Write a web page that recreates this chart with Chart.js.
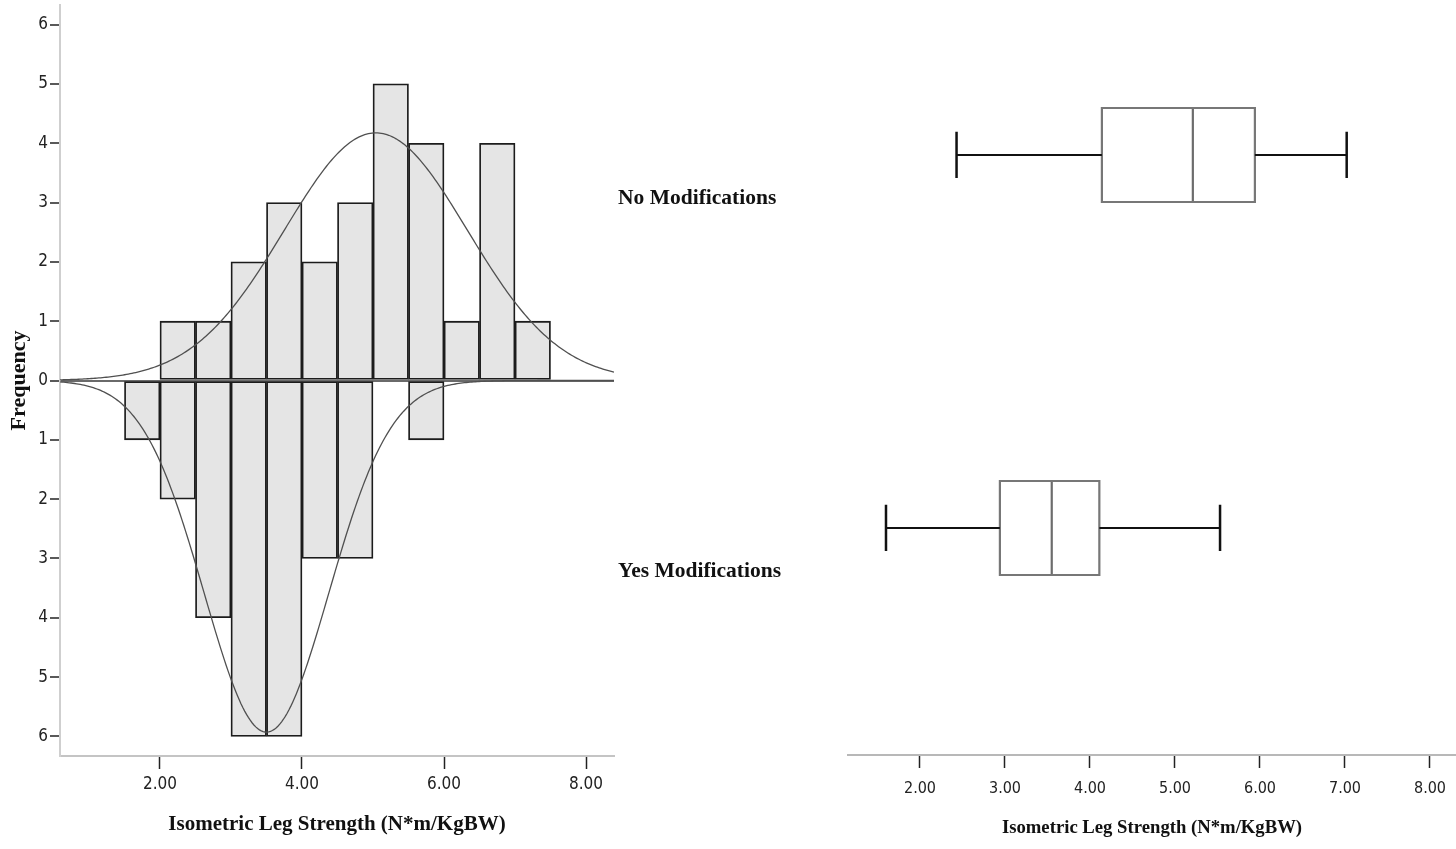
<!DOCTYPE html>
<html>
<head>
<meta charset="utf-8">
<title>Isometric Leg Strength by Modification Group</title>
<script src="https://cdn.jsdelivr.net/npm/chart.js@4.4.1/dist/chart.umd.min.js"></script>
<style>
  html, body { margin: 0; padding: 0; background: #ffffff; }
  body { width: 1456px; height: 849px; position: relative; overflow: hidden; }
  #hist { position: absolute; left: 0; top: 0; }
  #box  { position: absolute; left: 618px; top: 0; }
</style>
</head>
<body>
<canvas id="hist" width="620" height="849"></canvas>
<canvas id="box" width="838" height="849"></canvas>
<script>
// Histogram bins (lower edges, width 0.5 N*m/KgBW)
const binStarts = [1.5, 2.0, 2.5, 3.0, 3.5, 4.0, 4.5, 5.0, 5.5, 6.0, 6.5, 7.0];
const binWidth = 0.5;

// Frequencies per bin: upper half = no modifications, lower half = with modifications
const noModCounts  = [0, 1, 1, 2, 3, 2, 3, 5, 4, 1, 4, 1];
const yesModCounts = [1, 2, 4, 6, 6, 3, 3, 0, 1, 0, 0, 0];

// Group names and normal-fit parameters
const groupNames = ['No Modifications', 'Yes Modifications'];
const groupN  = [27, 26];
const fitMean = [5.04, 3.50];
const fitSD   = [1.29, 0.875];

// Five-number summaries for the box plots
const boxMin    = [2.43, 1.60];
const boxQ1     = [4.14, 2.94];
const boxMedian = [5.21, 3.55];
const boxQ3     = [5.94, 4.11];
const boxMax    = [7.02, 5.53];

// Tick values
const histXTicks = [2, 4, 6, 8];
const freqTicks  = [-6, -5, -4, -3, -2, -1, 0, 1, 2, 3, 4, 5, 6];
const boxXTicks  = [2, 3, 4, 5, 6, 7, 8];

const axisTitle = 'Isometric Leg Strength (N*m/KgBW)';

// ---- styling ----
const SERIF = "'Liberation Serif', 'Times New Roman', serif";
const NARROW = "'Liberation Sans Narrow', 'Arial Narrow', 'DejaVu Sans Condensed', sans-serif";
const HIST_X_MIN = 0.592, HIST_X_MAX = 8.394;
const FREQ_LIMIT = 6.33;
const BOX_X_MIN = 1.153, BOX_X_MAX = 8.306;
const BOX_Y_MIN = -0.4155, BOX_Y_MAX = 1.6086;
const BOX_HALF = 0.126, CAP_HALF = 0.062;

const noInteraction = {
  responsive: false,
  animation: false,
  events: [],
  plugins: { legend: { display: false }, tooltip: { enabled: false } }
};

function toBars(counts, sign) {
  return binStarts.map((s, i) => ({ x: s + binWidth / 2, y: counts[i] ? sign * counts[i] : null }));
}

// Normal density scaled to counts per bin
function fitCurve(g, sign) {
  const pts = [];
  const steps = 300;
  const scale = groupN[g] * binWidth / (fitSD[g] * Math.sqrt(2 * Math.PI));
  for (let i = 0; i <= steps; i++) {
    const x = HIST_X_MIN + (HIST_X_MAX - HIST_X_MIN) * i / steps;
    const z = (x - fitMean[g]) / fitSD[g];
    pts.push({ x: x, y: sign * scale * Math.exp(-0.5 * z * z) });
  }
  return pts;
}

const barStyle = {
  type: 'bar',
  backgroundColor: '#e5e5e5',
  borderColor: '#1c1c1c',
  borderWidth: 1.8,
  borderSkipped: false,
  grouped: false,
  barPercentage: 1,
  categoryPercentage: 1,
  order: 2
};
const curveStyle = {
  type: 'line',
  borderColor: '#505050',
  borderWidth: 1.3,
  pointRadius: 0,
  tension: 0,
  fill: false,
  order: 0
};

new Chart(document.getElementById('hist'), {
  type: 'bar',
  data: {
    datasets: [
      Object.assign({ label: groupNames[0], data: toBars(noModCounts, 1) }, barStyle),
      Object.assign({ label: groupNames[1], data: toBars(yesModCounts, -1) }, barStyle),
      Object.assign({ label: groupNames[0] + ' fit', data: fitCurve(0, 1) }, curveStyle),
      Object.assign({ label: groupNames[1] + ' fit', data: fitCurve(1, -1) }, curveStyle)
    ]
  },
  options: Object.assign({}, noInteraction, {
    layout: { padding: { top: 5, right: 6, left: 0, bottom: 0 } },
    scales: {
      x: {
        type: 'linear',
        min: HIST_X_MIN,
        max: HIST_X_MAX,
        offset: false,
        afterBuildTicks: s => { s.ticks = histXTicks.map(v => ({ value: v })); },
        afterFit: s => { s.height = 93; s.paddingLeft = 0; s.paddingRight = 0; },
        ticks: {
          callback: v => Number(v).toFixed(2),
          font: { family: NARROW, size: 17 },
          color: '#222',
          padding: 5,
          maxRotation: 0,
          autoSkip: false
        },
        grid: { drawOnChartArea: false, offset: false, tickLength: 13, tickColor: '#222', tickWidth: 1.5 },
        border: { color: '#c4c4c4', width: 2 },
        title: {
          display: true,
          text: axisTitle,
          font: { family: SERIF, size: 21, weight: 'bold' },
          color: '#111',
          padding: { top: 0, bottom: 12 }
        }
      },
      y: {
        type: 'linear',
        min: -FREQ_LIMIT,
        max: FREQ_LIMIT,
        afterBuildTicks: s => { s.ticks = freqTicks.map(v => ({ value: v })); },
        afterFit: s => { s.width = 60; s.paddingTop = 0; s.paddingBottom = 0; },
        ticks: {
          callback: v => String(Math.abs(v)),
          font: { family: NARROW, size: 17 },
          color: '#222',
          padding: 2,
          autoSkip: false
        },
        grid: {
          drawOnChartArea: true,
          color: ctx => (ctx.tick && ctx.tick.value === 0) ? '#6a6a6a' : 'rgba(0,0,0,0)',
          lineWidth: 2,
          tickColor: '#222',
          tickWidth: 1.5,
          tickLength: 10
        },
        border: { color: '#cfcfcf', width: 2 },
        title: {
          display: true,
          text: 'Frequency',
          font: { family: SERIF, size: 22, weight: 'bold' },
          color: '#111',
          padding: { top: 6, bottom: 0 }
        }
      }
    }
  })
});

// ---- box plots ----
function seg(points, color, width, extra) {
  return Object.assign({
    data: points,
    showLine: true,
    borderColor: color,
    backgroundColor: color,
    borderWidth: width,
    pointRadius: 0,
    fill: false,
    tension: 0
  }, extra || {});
}

const boxDatasets = [];
groupNames.forEach((name, g) => {
  const top = g - BOX_HALF, bot = g + BOX_HALF;
  boxDatasets.push(seg([{ x: boxMin[g], y: g }, { x: boxQ1[g], y: g }], '#111', 2.2));
  boxDatasets.push(seg([{ x: boxQ3[g], y: g }, { x: boxMax[g], y: g }], '#111', 2.2));
  boxDatasets.push(seg([{ x: boxMin[g], y: g - CAP_HALF }, { x: boxMin[g], y: g + CAP_HALF }], '#111', 2.5));
  boxDatasets.push(seg([{ x: boxMax[g], y: g - CAP_HALF }, { x: boxMax[g], y: g + CAP_HALF }], '#111', 2.5));
  boxDatasets.push(seg([
    { x: boxQ1[g], y: top }, { x: boxQ3[g], y: top }, { x: boxQ3[g], y: bot },
    { x: boxQ1[g], y: bot }, { x: boxQ1[g], y: top }
  ], '#777', 2.2, { borderCapStyle: 'square', borderJoinStyle: 'miter' }));
  boxDatasets.push(seg([{ x: boxMedian[g], y: top }, { x: boxMedian[g], y: bot }], '#6c6c6c', 2.2));
});

new Chart(document.getElementById('box'), {
  type: 'scatter',
  data: { datasets: boxDatasets },
  options: Object.assign({}, noInteraction, {
    layout: { padding: { top: 0, right: 0, left: 0, bottom: 0 } },
    scales: {
      x: {
        type: 'linear',
        min: BOX_X_MIN,
        max: BOX_X_MAX,
        afterBuildTicks: s => { s.ticks = boxXTicks.map(v => ({ value: v })); },
        afterFit: s => { s.height = 94; s.paddingLeft = 0; s.paddingRight = 0; },
        ticks: {
          callback: v => Number(v).toFixed(2),
          font: { family: NARROW, size: 16 },
          color: '#222',
          padding: 11,
          maxRotation: 0,
          autoSkip: false
        },
        grid: { drawOnChartArea: false, tickLength: 13, tickColor: '#222', tickWidth: 1.5 },
        border: { color: '#b8b8b8', width: 2 },
        title: {
          display: true,
          text: axisTitle,
          font: { family: SERIF, size: 18.7, weight: 'bold' },
          color: '#111',
          padding: { top: 0, bottom: 10 }
        }
      },
      y: {
        type: 'linear',
        reverse: true,
        min: BOX_Y_MIN,
        max: BOX_Y_MAX,
        afterBuildTicks: s => { s.ticks = groupNames.map((n, i) => ({ value: i })); },
        afterFit: s => { s.width = 230; s.paddingTop = 0; s.paddingBottom = 0; },
        ticks: {
          callback: (v, i) => groupNames[i],
          font: { family: SERIF, size: 21.5, weight: 'bold' },
          color: '#111',
          crossAlign: 'far',
          labelOffset: 43,
          autoSkip: false
        },
        grid: { display: false },
        border: { display: false }
      }
    }
  })
});
</script>
</body>
</html>
